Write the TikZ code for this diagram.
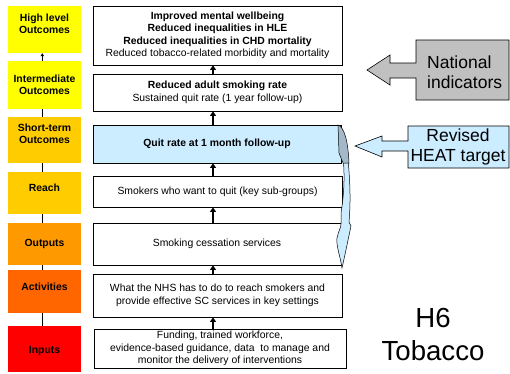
\documentclass[tikz,border=0pt]{standalone}
\usepackage{fontspec}
\setmainfont{Liberation Sans}
\usetikzlibrary{arrows.meta}
\definecolor{hiYellow}{HTML}{FFFF00}
\definecolor{stGold}{HTML}{FFCC00}
\definecolor{outOrange}{HTML}{FF9900}
\definecolor{actOrange}{HTML}{FF6600}
\definecolor{inRed}{HTML}{FF0000}
\definecolor{paleBlue}{HTML}{CCECFF}
\definecolor{slateBlue}{HTML}{A3B8C8}
\definecolor{calloutGray}{HTML}{C0C0C0}

\begin{document}
\begin{tikzpicture}[x=1pt,y=-1pt,
  stagebox/.style={minimum width=73pt, inner sep=0pt},
  stagetext/.style={inner sep=0pt, align=center, font=\fontsize{10.4}{12.2}\selectfont\bfseries},
  chainbox/.style={draw, line width=0.8pt, inner sep=0pt, align=center,
    font=\fontsize{10.4}{12.4}\selectfont},
  uparrow/.style={-{Triangle[length=4.5pt,width=6pt]}, line width=1.5pt},
  link/.style={line width=1pt},
  callout/.style={draw, line width=0.6pt, line join=miter},
  bigtext/.style={inner sep=0pt, font=\fontsize{17.5}{20.5}\selectfont}
]
\useasboundingbox (0,0) rectangle (510,373);

% ---- stage column ----
\node[stagebox, fill=hiYellow,  minimum height=47pt] (l1) at (44.5,29.5) {};
\node[stagebox, fill=hiYellow,  minimum height=48pt] (l2) at (44.5,85) {};
\node[stagebox, fill=stGold,    minimum height=46pt] (l3) at (44.5,140) {};
\node[stagebox, fill=stGold,    minimum height=42pt] (l4) at (44.5,193) {};
\node[stagebox, fill=outOrange, minimum height=42pt] (l5) at (44.5,244) {};
\node[stagebox, fill=actOrange, minimum height=43pt] (l6) at (44.5,291.5) {};
\node[stagebox, fill=inRed,     minimum height=46pt] (l7) at (44.5,349) {};

\node[stagetext] (l1t) at (44.5,23.5) {High level\\Outcomes};
\node[stagetext] (l2t) at (44.5,85) {Intermediate\\Outcomes};
\node[stagetext] (l3t) at (44.5,134) {Short-term\\Outcomes};
\node[stagetext] (l4t) at (44.5,188) {Reach};
\node[stagetext] (l5t) at (44.5,244) {Outputs};
\node[stagetext] (l6t) at (44.5,286.5) {Activities};
\node[stagetext] (l7t) at (44.5,351) {Inputs};

\coordinate (lx) at (42.3,0);
\draw[link, -{Triangle[length=3pt,width=3.5pt]}] (l2.north -| lx) -- (l1.south -| lx);
\draw[link] (l3.north -| lx) -- (l2.south -| lx);
\draw[link] (l4.north -| lx) -- (l3.south -| lx);
\draw[link] (l5.north -| lx) -- (l4.south -| lx);
\draw[link] (l6.north -| lx) -- (l5.south -| lx);
\draw[link] (l7.north -| lx) -- (l6.south -| lx);

% ---- results chain ----
\node[chainbox, minimum width=249pt, minimum height=59pt] (b1) at (217.5,35.5)
  {\textbf{Improved mental wellbeing}\\\textbf{Reduced inequalities in HLE}\\
   \textbf{Reduced inequalities in CHD mortality}\\Reduced tobacco-related morbidity and mortality};
\node[chainbox, minimum width=249pt, minimum height=37pt] (b2) at (217.5,92.5)
  {\textbf{Reduced adult smoking rate}\\Sustained quit rate (1 year follow-up)};
\node[chainbox, fill=paleBlue, minimum width=248pt, minimum height=38pt] (b3) at (217,144)
  {\textbf{Quit rate at 1 month follow-up}};
\node[chainbox, minimum width=249pt, minimum height=31pt] (b4) at (217.5,191.5)
  {Smokers who want to quit (key sub-groups)};
\node[chainbox, minimum width=248pt, minimum height=42pt] (b5) at (217,244)
  {Smoking cessation services};
\node[chainbox, minimum width=249pt, minimum height=43pt] (b6) at (217.5,295.5)
  {What the NHS has to do to reach smokers and\\provide effective SC services in key settings};
\node[chainbox, minimum width=252pt, minimum height=39pt] (b7) at (220,348.5)
  {Funding, trained workforce,\\evidence-based guidance, data\ \ to manage and\\monitor the delivery of interventions};

\coordinate (ax) at (213,0);
\draw[uparrow] (b2.north -| ax) -- (b1.south -| ax);
\draw[uparrow] (b3.north -| ax) -- (b2.south -| ax);
\draw[uparrow] (b4.north -| ax) -- (b3.south -| ax);
\draw[uparrow] (b5.north -| ax) -- (b4.south -| ax);
\draw[uparrow] (b6.north -| ax) -- (b5.south -| ax);
\draw[uparrow] (b7.north -| ax) -- (b6.south -| ax);

% ---- curved arrow from the 1-month quit rate down to outputs ----
\draw[line width=0.5pt, fill=paleBlue]
  (343,158) -- (348,160) .. controls (350.5,185) and (350.5,205) .. (349,222)
  -- (351,226) .. controls (348,240) and (345,255) .. (342,268)
  .. controls (340,255) and (336,246) .. (337,238)
  .. controls (338,232) and (341,228) .. (341,224)
  -- (341,213) .. controls (344,195) and (345,175) .. (343,158) -- cycle;
\draw[line width=0.5pt, fill=slateBlue]
  (338,125) .. controls (344,127) and (348,140) .. (349,163)
  -- (343,163) -- (339,153) -- cycle;

% ---- callouts ----
\draw[callout, fill=calloutGray]
  (416,40) -- (509,40) -- (509,100) -- (416,100) -- (416,78) -- (390,78)
  -- (390,85) -- (367,70) -- (390,55) -- (390,63) -- (416,63) -- cycle;
\node[bigtext, align=left, anchor=west] (nat) at (427,72) {National\\indicators};

\draw[callout, fill=paleBlue]
  (408,126) -- (509,126) -- (509,168) -- (408,168) -- (408,151) -- (382,151)
  -- (382,157) -- (355,146) -- (382,136) -- (382,141) -- (408,141) -- cycle;
\node[bigtext, align=center] (heat) at (458,147) {Revised\\HEAT target};

% ---- topic label ----
\node[inner sep=0pt, align=center, font=\fontsize{27.6}{33}\selectfont] (topic) at (433,334)
  {H6\\Tobacco};
\end{tikzpicture}
\end{document}
